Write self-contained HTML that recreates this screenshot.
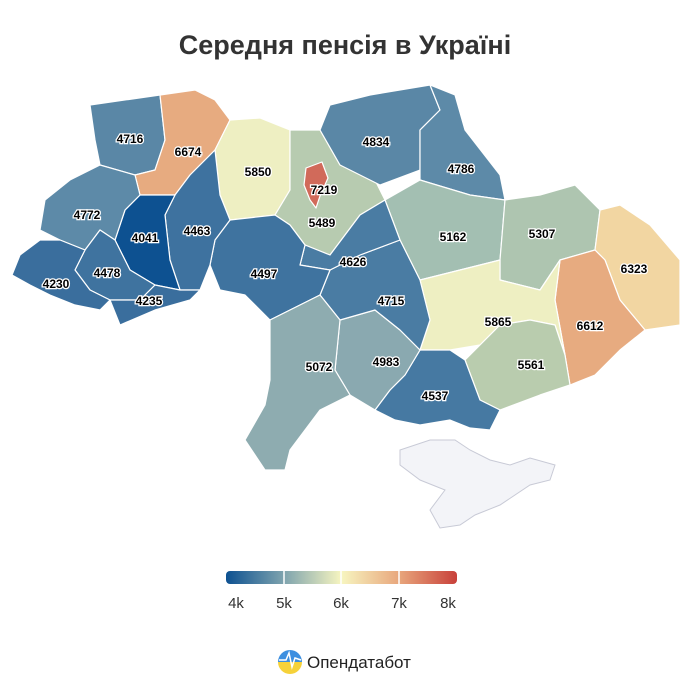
<!DOCTYPE html>
<html><head><meta charset="utf-8"><style>
body{margin:0;background:#fff;width:690px;height:690px;overflow:hidden;font-family:"Liberation Sans",sans-serif}
</style></head><body>
<svg width="690" height="690" viewBox="0 0 690 690" xmlns="http://www.w3.org/2000/svg">
<text x="345" y="54" text-anchor="middle" font-size="27" font-weight="bold" fill="#333">Середня пенсія в Україні</text>
<g stroke="#fff" stroke-width="1.2" stroke-linejoin="round">
<polygon fill="#5a87a6" points="90,105 160,95 165,140 155,170 135,175 100,165 95,140"/>
<polygon fill="#e7ab80" points="160,95 195,90 215,100 230,120 215,150 190,175 175,195 140,195 135,175 155,170 165,140"/>
<polygon fill="#eeefc2" points="230,120 260,118 290,130 290,190 275,215 230,220 220,195 215,150"/>
<polygon fill="#b7cbb0" points="290,130 320,130 340,165 375,180 385,200 360,215 330,255 305,245 290,225 275,215 290,190"/>
<polygon fill="#5a87a6" points="330,105 370,95 430,85 440,110 420,130 420,170 380,185 340,165 320,130"/>
<polygon fill="#5d8aa8" points="430,85 455,95 465,130 500,175 505,200 470,195 420,180 420,130 440,110"/>
<polygon fill="#a3bfb2" points="385,200 420,180 470,195 505,200 500,260 460,270 420,280 400,240"/>
<polygon fill="#aec5b0" points="505,200 540,195 575,185 600,210 595,250 560,260 540,290 500,280 500,260"/>
<polygon fill="#f2d6a2" points="600,210 620,205 650,225 680,260 680,325 645,330 620,300 605,260 595,250"/>
<polygon fill="#e7ab80" points="595,250 605,260 620,300 645,330 620,350 595,375 570,385 565,355 555,300 560,260"/>
<polygon fill="#eeefc2" points="420,280 460,270 500,260 500,280 540,290 560,260 555,300 565,355 555,325 530,320 500,325 480,345 450,350 420,350 430,320"/>
<polygon fill="#b9ccae" points="480,345 500,325 530,320 555,325 565,355 570,385 540,395 500,410 480,400 465,360"/>
<polygon fill="#4679a2" points="420,350 450,350 465,360 480,400 500,410 490,430 470,428 450,420 420,425 395,420 375,410 390,390 405,375"/>
<polygon fill="#8aa9b0" points="340,320 375,310 400,330 420,350 405,375 390,390 375,410 350,395 335,370"/>
<polygon fill="#4a7ca3" points="330,270 360,255 400,240 420,280 430,320 420,350 400,330 375,310 340,320 320,295"/>
<polygon fill="#4a7ca3" points="305,245 330,255 360,215 385,200 400,240 360,255 330,270 300,265"/>
<polygon fill="#3f739f" points="230,220 275,215 290,225 305,245 300,265 330,270 320,295 300,305 270,320 245,295 220,290 210,265 215,240"/>
<polygon fill="#8eacb0" points="300,305 320,295 340,320 335,370 350,395 320,410 290,450 285,470 265,470 245,440 265,405 270,380 270,320"/>
<polygon fill="#3e729f" points="175,195 190,175 215,150 220,195 230,220 215,240 210,265 200,290 180,290 170,260 165,215"/>
<polygon fill="#0d5191" points="140,195 175,195 165,215 170,260 180,290 155,285 130,270 115,240 125,210"/>
<polygon fill="#5d8aa8" points="100,165 135,175 140,195 125,210 115,240 100,230 85,250 60,240 40,230 45,200 70,180"/>
<polygon fill="#3f739f" points="115,240 130,270 155,285 140,300 110,300 90,290 75,270 85,250 100,230"/>
<polygon fill="#3a6e9d" points="110,300 140,300 155,285 180,290 200,290 190,300 155,310 120,325"/>
<polygon fill="#3a6e9d" points="20,255 40,240 60,240 85,250 75,270 90,290 110,300 100,310 75,305 50,295 30,285 12,275"/>
<polygon fill="#d16a5a" points="306,168 322,162 328,178 320,196 316,208 310,200 304,185"/>
</g>
<polygon fill="#f3f4f8" stroke="#c8cad6" stroke-width="1" points="400,450 430,440 455,440 470,450 490,460 510,465 530,458 555,465 550,480 530,485 500,505 475,515 460,525 440,528 430,510 445,490 420,480 400,465"/>
<g font-size="12" font-weight="bold" text-anchor="middle" fill="#000" stroke="#fff" stroke-width="2.5" paint-order="stroke">
<text x="130" y="143">4716</text><text x="188" y="156">6674</text><text x="258" y="176">5850</text>
<text x="324" y="194">7219</text><text x="322" y="227">5489</text><text x="376" y="146">4834</text>
<text x="461" y="173">4786</text><text x="453" y="241">5162</text><text x="542" y="238">5307</text>
<text x="634" y="273">6323</text><text x="590" y="330">6612</text><text x="498" y="326">5865</text>
<text x="531" y="369">5561</text><text x="435" y="400">4537</text><text x="386" y="366">4983</text>
<text x="391" y="305">4715</text><text x="353" y="266">4626</text><text x="264" y="278">4497</text>
<text x="319" y="371">5072</text><text x="197" y="235">4463</text><text x="145" y="242">4041</text>
<text x="87" y="219">4772</text><text x="107" y="277">4478</text><text x="149" y="305">4235</text>
<text x="56" y="288">4230</text>
</g>
<defs><linearGradient id="g" x1="0" x2="1">
<stop offset="0" stop-color="#0d5191"/><stop offset="0.25" stop-color="#7ea3ae"/><stop offset="0.5" stop-color="#f7f5c0"/><stop offset="0.75" stop-color="#e8a67c"/><stop offset="1" stop-color="#c8403a"/></linearGradient>
<linearGradient id="lg" x1="0" y1="0" x2="0" y2="1"><stop offset="0.5" stop-color="#3d8fe0"/><stop offset="0.5" stop-color="#f6d23a"/></linearGradient></defs>
<rect x="226" y="571" width="231" height="13" rx="4" fill="url(#g)"/>
<g stroke="#fff" stroke-width="1.5"><line x1="284" y1="571" x2="284" y2="584"/><line x1="341" y1="571" x2="341" y2="584"/><line x1="399" y1="571" x2="399" y2="584"/></g>
<g font-size="15" fill="#333" text-anchor="middle"><text x="236" y="608">4k</text><text x="284" y="608">5k</text><text x="341" y="608">6k</text><text x="399" y="608">7k</text><text x="448" y="608">8k</text></g>
<circle cx="290" cy="662" r="12" fill="url(#lg)"/>
<polyline points="279,660 286,660 289,653 292,667 295,658 301,660" fill="none" stroke="#fff" stroke-width="1.5"/>
<text x="307" y="668" font-size="17" fill="#222">Опендатабот</text>
</svg>
</body></html>
